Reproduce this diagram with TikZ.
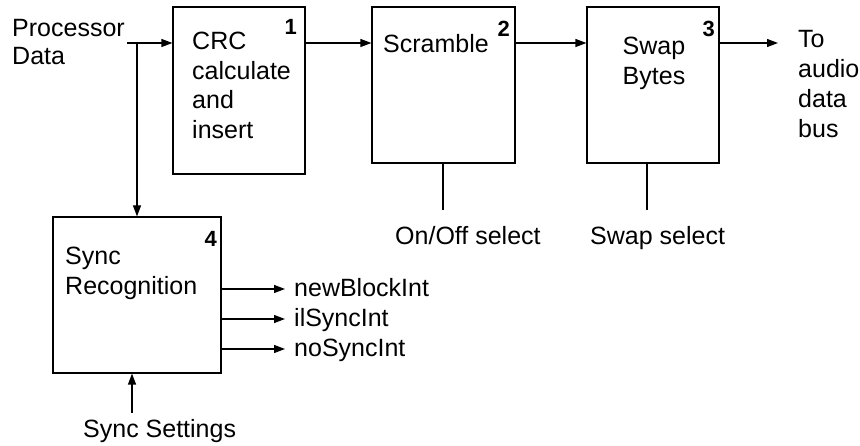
\documentclass[tikz,border=0pt]{standalone}
\usepackage{fontspec}
\setmainfont{Liberation Sans}
\usetikzlibrary{arrows.meta}
\begin{document}
\begin{tikzpicture}[x=1pt,y=-1pt,
  blk/.style={draw,line width=1.2pt,minimum width=#1,inner sep=0pt},
  arr/.style={line width=1.2pt,-{Triangle[length=11pt,width=8pt]}},
  ln/.style={line width=1.2pt},
  txt/.style={inner sep=0pt,font=\fontsize{25}{29.5}\selectfont},
  num/.style={inner sep=0pt,font=\fontsize{22}{24}\selectfont\bfseries,anchor=base east}]
\useasboundingbox (0,0) rectangle (860,446);
% boxes
\node[blk=132pt,minimum height=167pt] (b1) at (239,90.5) {};
\node[blk=143pt,minimum height=156pt] (b2) at (443.5,85) {};
\node[blk=132pt,minimum height=156pt] (b3) at (653,85) {};
\node[blk=168pt,minimum height=156pt] (b4) at (137,295) {};
% box texts (base = last line baseline)
\node[txt,anchor=base west,align=left] (t1) at (192,138.5) {CRC\\calculate\\and\\insert};
\node[txt,anchor=base west] (t2) at (383,53) {Scramble};
\node[txt,anchor=base,align=center,font=\fontsize{25}{30}\selectfont] (t3) at (654,85) {Swap\\Bytes};
\node[txt,anchor=base west,align=left,font=\fontsize{25}{30}\selectfont] (t4) at (65,295) {Sync\\Recognition};
\node[num] (n1) at (297,35) {1};
\node[num] (n2) at (510,37) {2};
\node[num] (n3) at (715,37) {3};
\node[num] (n4) at (217,247) {4};
% outside labels
\node[txt,anchor=base west,align=left,font=\fontsize{25}{28}\selectfont] (pd) at (12,65) {Processor\\Data};
\node[txt,anchor=base west,align=left,font=\fontsize{25}{30}\selectfont] (tb) at (798,138) {To\\audio\\data\\bus};
\node[txt,anchor=base west] (oo) at (395,245) {On/Off select};
\node[txt,anchor=base west] (ss) at (590,245) {Swap select};
\node[txt,anchor=base west] (sy) at (83,437) {Sync Settings};
\node[txt,anchor=base west] (o1) at (294,297) {newBlockInt};
\node[txt,anchor=base west] (o2) at (294,327) {ilSyncInt};
\node[txt,anchor=base west] (o3) at (294,357) {noSyncInt};
% coordinates
\coordinate (pin) at (127,43);
\coordinate (br) at (137,43);
\coordinate (out) at (778,43);
\coordinate (ool) at (443,210);
\coordinate (ssl) at (647,210);
\coordinate (e1) at (285,289);
\coordinate (e2) at (285,319);
\coordinate (e3) at (285,349);
\coordinate (sst) at (132,413);
% connectors
\draw[arr] (pin) -- (pin -| b1.west);
\draw[arr] (br) -- (br |- b4.north);
\draw[arr] (b1.east |- pin) -- (b2.west |- pin);
\draw[arr] (b2.east |- pin) -- (b3.west |- pin);
\draw[arr] (b3.east |- pin) -- (out);
\draw[ln] (ool |- b2.south) -- (ool);
\draw[ln] (ssl |- b3.south) -- (ssl);
\draw[arr] (b4.east |- e1) -- (e1);
\draw[arr] (b4.east |- e2) -- (e2);
\draw[arr] (b4.east |- e3) -- (e3);
\draw[arr] (sst) -- (sst |- b4.south);
\end{tikzpicture}
\end{document}
